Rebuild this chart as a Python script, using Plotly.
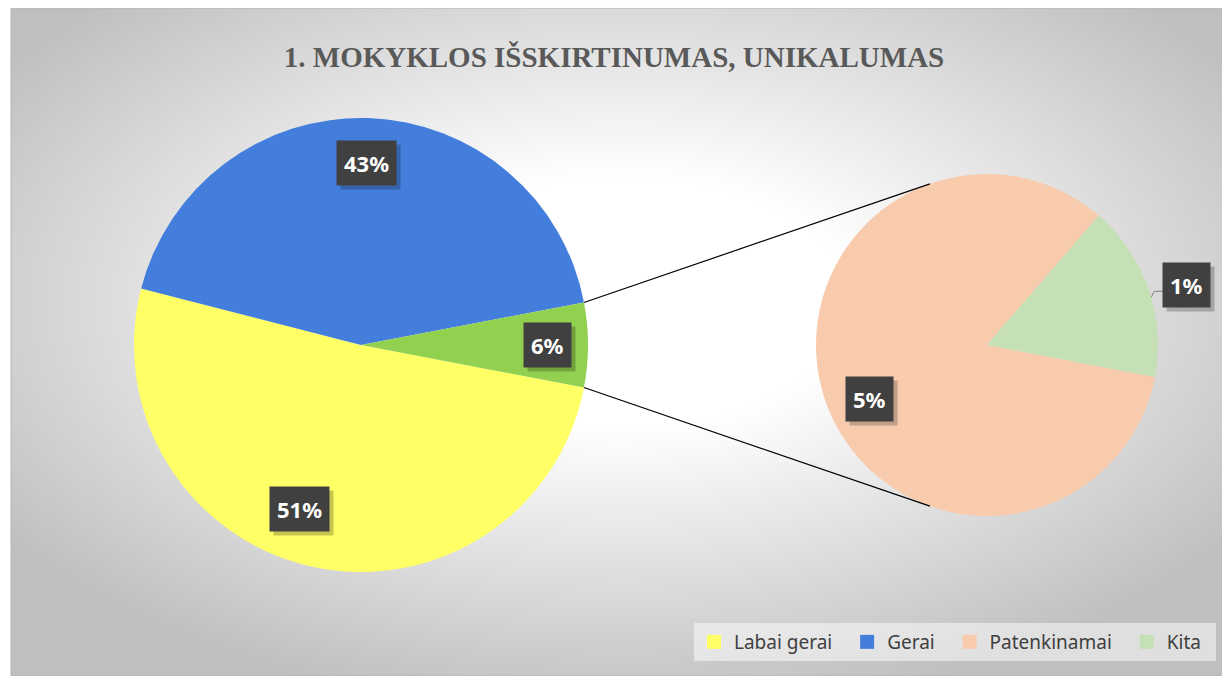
import base64
import math
import plotly.graph_objects as go

# data (percent of all answers)
main_labels = ["Labai gerai", "Gerai", "Kita atsakymai"]
main_values = [51, 43, 6]
sub_labels = ["Patenkinamai", "Kita"]
sub_values = [5, 1]
legend_labels = ["Labai gerai", "Gerai", "Patenkinamai", "Kita"]

main_colors = ["#FFFF66", "#437EDC", "#92D050"]
sub_colors = ["#F8CBAD", "#C5E0B4"]
legend_colors = ["#FFFF66", "#437EDC", "#F8CBAD", "#C5E0B4"]

# page has an 8px body margin, so the figure starts at (8, 8) in the window
OFF = 8
W, H = 1230 - OFF, 676 - OFF


def px(x):
    return (x - OFF) / W


def py(y):
    return 1 - (y - OFF) / H


# pie geometry (window pixels)
cx1, cy1, r1 = 361, 345, 227
cx2, cy2, r2 = 987, 345, 171

total = sum(main_values)
other_share = main_values[-1] / total
start = -other_share * 180  # math angle where first slice starts
rotation = 90 - start


def mid_angles(values):
    s = sum(values)
    out, cum = [], 0
    for v in values:
        out.append(start - (cum + v / 2) / s * 360)
        cum += v
    return out


def point(cx, cy, r, ang):
    a = math.radians(ang)
    return cx + r * math.cos(a), cy - r * math.sin(a)


fig = go.Figure()

fig.add_trace(go.Pie(
    labels=main_labels, values=main_values, sort=False, direction="clockwise",
    rotation=rotation, marker=dict(colors=main_colors, line=dict(width=0)),
    textinfo="none", hoverinfo="label+value", showlegend=False,
    domain=dict(x=[px(cx1 - r1), px(cx1 + r1)], y=[py(cy1 + r1), py(cy1 - r1)]),
))
fig.add_trace(go.Pie(
    labels=sub_labels, values=sub_values, sort=False, direction="clockwise",
    rotation=rotation, marker=dict(colors=sub_colors, line=dict(width=0)),
    textinfo="none", hoverinfo="label+value", showlegend=False,
    domain=dict(x=[px(cx2 - r2), px(cx2 + r2)], y=[py(cy2 + r2), py(cy2 - r2)]),
))

# legend entries
for name, col in zip(legend_labels, legend_colors):
    fig.add_trace(go.Scatter(
        x=[None], y=[None], mode="markers", name=name + "  ",
        marker=dict(symbol="square", size=14, color=col),
    ))

# data labels
annotations = []


def label(x, y, text):
    common = dict(xref="paper", yref="paper", x=px(x), y=py(y),
                  xanchor="center", yanchor="middle",
                  showarrow=False, borderpad=7)
    annotations.append(dict(common, text="<b>" + text + "</b>",
                            font=dict(family="Noto Sans", size=22, color="rgba(0,0,0,0)"),
                            bgcolor="rgba(0,0,0,0.22)", xshift=4, yshift=-4))
    annotations.append(dict(common, text="<b>" + text + "</b>",
                            font=dict(family="Noto Sans", size=22, color="white"),
                            bgcolor="#404040"))


fracs = [0.77, 0.8, 0.82]
turns = [-8, 0, 0]
for v, ang, f, t in zip(main_values, mid_angles(main_values), fracs, turns):
    x, y = point(cx1, cy1, r1 * f, ang + t)
    label(x, y, f"{v}%")

sub_angles = mid_angles(sub_values)
x, y = point(cx2, cy2, r2 * 0.755, sub_angles[0] + 5.3)
label(x, y, f"{sub_values[0]}%")
x, y = point(cx2, cy2, r2 * 1.22, sub_angles[1] - 2.5)
label(x, y, f"{sub_values[1]}%")

# leader line for the small outside label
ex, ey = point(cx2, cy2, r2, sub_angles[1] - 3)
shapes = [
    dict(type="path", xref="paper", yref="paper",
         path=f"M {px(ex)} {py(ey)} L {px(ex + 3)} {py(ey - 6)} L {px(ex + 12)} {py(ey - 6)}",
         line=dict(color="#808080", width=1)),
]

# connector lines between the two pies
for sgn in (1, -1):
    x0, y0 = point(cx1, cy1, r1, sgn * other_share * 180)
    x1, y1 = point(cx2, cy2, r2, sgn * 109.5)
    shapes.append(dict(type="line", xref="paper", yref="paper",
                       x0=px(x0), y0=py(y0), x1=px(x1), y1=py(y1),
                       line=dict(color="black", width=1.2)))

shapes.append(dict(type="rect", xref="paper", yref="paper", layer="below",
                   x0=px(11), y0=0, x1=1, y1=1,
                   line=dict(color="#b5b5b5", width=1)))

svg = (
    '<svg xmlns="http://www.w3.org/2000/svg" width="1219" height="668" '
    'preserveAspectRatio="none" viewBox="0 0 1219 668">'
    '<defs><radialGradient id="g" cx="0.5" cy="0.44" r="0.62">'
    '<stop offset="0" stop-color="#ffffff"/>'
    '<stop offset="0.3" stop-color="#ffffff"/>'
    '<stop offset="1" stop-color="#bfbfbf"/>'
    '</radialGradient></defs>'
    '<rect width="1219" height="668" fill="url(#g)"/></svg>'
)
bg = "data:image/svg+xml;base64," + base64.b64encode(svg.encode()).decode()

fig.update_layout(
    width=W, height=H,
    margin=dict(l=0, r=0, t=0, b=0),
    paper_bgcolor="white", plot_bgcolor="rgba(0,0,0,0)",
    title=dict(text="<b>1. MOKYKLOS IŠSKIRTINUMAS, UNIKALUMAS</b>",
               x=px(614), xanchor="center", y=py(57), yanchor="middle",
               font=dict(family="Liberation Serif", size=29, color="#595959")),
    xaxis=dict(visible=False), yaxis=dict(visible=False),
    legend=dict(orientation="h", x=px(694), xanchor="left",
                y=py(661), yanchor="bottom",
                bgcolor="rgba(255,255,255,0.5)",
                font=dict(family="Noto Sans", size=19, color="#404040"),
                itemclick=False),
    images=[dict(source=bg, xref="paper", yref="paper", x=px(11), y=1,
                 sizex=1 - px(11), sizey=1, xanchor="left", yanchor="top",
                 sizing="stretch", layer="below")],
    annotations=annotations,
    shapes=shapes,
)

fig.write_html("out.html")
